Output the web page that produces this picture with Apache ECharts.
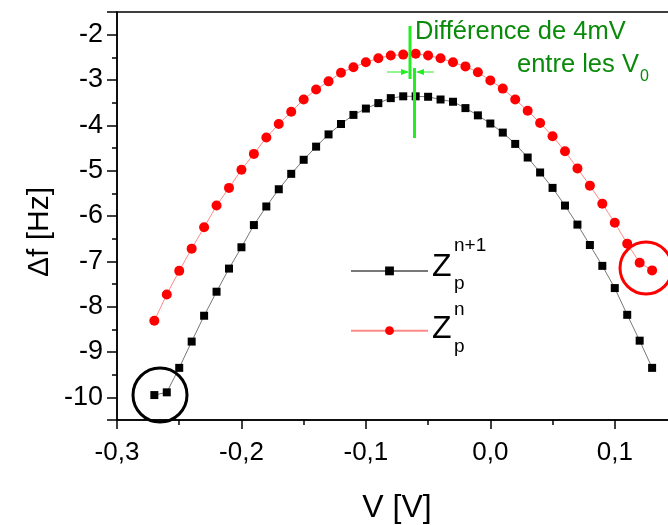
<!DOCTYPE html>
<html><head><meta charset="utf-8">
<script src="https://cdn.jsdelivr.net/npm/echarts@6/dist/echarts.min.js"></script>
<style>html,body{margin:0;padding:0;background:#fff}#c{width:668px;height:525px}</style>
</head><body><div id="c"></div>
<script>
const voltages = [-0.27,-0.26,-0.25,-0.24,-0.23,-0.22,-0.21,-0.20,-0.19,-0.18,
  -0.17,-0.16,-0.15,-0.14,-0.13,-0.12,-0.11,-0.10,-0.09,-0.08,
  -0.07,-0.06,-0.05,-0.04,-0.03,-0.02,-0.01,0.00,0.01,0.02,
  0.03,0.04,0.05,0.06,0.07,0.08,0.09,0.10,0.11,0.12,0.13];
const zpN1 = [-9.95,-9.89,-9.35,-8.77,-8.20,-7.67,-7.16,-6.69,-6.20,-5.79,
  -5.41,-5.07,-4.76,-4.47,-4.20,-3.97,-3.77,-3.63,-3.51,-3.40,
  -3.36,-3.36,-3.37,-3.43,-3.48,-3.62,-3.78,-3.96,-4.16,-4.41,
  -4.71,-5.04,-5.38,-5.77,-6.19,-6.64,-7.10,-7.59,-8.18,-8.75,-9.35];
const zpN = [-8.31,-7.73,-7.21,-6.72,-6.25,-5.77,-5.38,-4.98,-4.63,-4.27,
  -3.97,-3.70,-3.43,-3.21,-3.03,-2.84,-2.72,-2.61,-2.52,-2.46,
  -2.44,-2.42,-2.46,-2.52,-2.61,-2.70,-2.83,-3.01,-3.19,-3.43,
  -3.68,-3.95,-4.24,-4.57,-4.95,-5.33,-5.73,-6.15,-6.61,-7.03,-7.20];
const xTicks = [-0.3,-0.2,-0.1,0.0,0.1];
const yTicks = [-2,-3,-4,-5,-6,-7,-8,-9,-10];

const FONT = '"Liberation Sans", Arial, sans-serif';
const chart = echarts.init(document.getElementById('c'), null, {renderer:'canvas'});
const green = '#22ee22';
const dgreen = '#0a8a0a';
chart.setOption({
  animation:false,
  backgroundColor:'#fff',
  grid:{left:117, top:12, right:-9, bottom:105, containLabel:false, outerBoundsMode:'none',
    show:true, borderColor:'#000', borderWidth:1.5},
  legend:{
    orient:'vertical', left:345, top:261.5, itemWidth:77, itemHeight:11, itemGap:51,
    formatter:()=>' ', textStyle:{fontSize:2},
    data:['Zpn1','Zpn']
  },
  xAxis:{
    type:'value', min:-0.3, max:0.15, interval:0.1,
    axisLine:{onZero:false, lineStyle:{color:'#000', width:1.5}},
    axisTick:{show:true, length:9, inside:false, lineStyle:{color:'#000', width:1.5}},
    minorTick:{show:true, splitNumber:2, length:5, lineStyle:{color:'#000', width:1.5}},
    splitLine:{show:false},
    axisLabel:{fontFamily:FONT, fontSize:26, color:'#000', margin:20, showMaxLabel:false,
      formatter:v=>{ const t = xTicks.find(x=>Math.abs(x-v)<1e-9); return t===undefined?'':t.toFixed(1).replace('.',','); }},
    name:'V [V]', nameLocation:'middle', nameGap:72,
    nameTextStyle:{fontFamily:FONT, fontSize:32, color:'#000'}
  },
  yAxis:{
    type:'value', min:-10.5, max:-1.5, splitNumber:8,
    axisLine:{onZero:false, lineStyle:{color:'#000', width:1.5}},
    axisTick:{show:true, length:10, lineStyle:{color:'#000', width:1.5}},
    minorTick:{show:true, splitNumber:2, length:5, lineStyle:{color:'#000', width:1.5}},
    splitLine:{show:false},
    axisLabel:{fontFamily:FONT, fontSize:27, color:'#000', margin:14,
      formatter:v=>{ const t = yTicks.find(y=>Math.abs(y-v)<1e-9); return t===undefined?'':String(t); }}
  },
  series:[
    {name:'Zpn1', type:'line', data:voltages.map((v,i)=>[v,zpN1[i]]),
     symbol:'rect', symbolSize:8, itemStyle:{color:'#000'},
     lineStyle:{color:'#777', width:1}, z:2},
    {name:'Zpn', type:'line', data:voltages.map((v,i)=>[v,zpN[i]]),
     symbol:'circle', symbolSize:10, itemStyle:{color:'#ff0000'},
     lineStyle:{color:'#ff8a8a', width:1}, z:3}
  ],
  graphic:[
    {type:'text', x:40, y:232, rotation:Math.PI/2, style:{text:'Δf [Hz]', font:'30px '+FONT, fill:'#000', align:'center', verticalAlign:'middle'}},
    // legend labels
    {type:'text', x:432, y:267, style:{text:'Z', font:'32px '+FONT, fill:'#000', verticalAlign:'middle'}},
    {type:'text', x:454, y:246, style:{text:'n+1', font:'19px '+FONT, fill:'#000', verticalAlign:'middle'}},
    {type:'text', x:454, y:284, style:{text:'p', font:'19px '+FONT, fill:'#000', verticalAlign:'middle'}},
    {type:'text', x:432, y:329, style:{text:'Z', font:'32px '+FONT, fill:'#000', verticalAlign:'middle'}},
    {type:'text', x:454, y:310, style:{text:'n', font:'19px '+FONT, fill:'#000', verticalAlign:'middle'}},
    {type:'text', x:454, y:347, style:{text:'p', font:'19px '+FONT, fill:'#000', verticalAlign:'middle'}},
    // circles
    {type:'circle', shape:{cx:160, cy:395, r:27}, style:{fill:'none', stroke:'#000', lineWidth:3}, z:10},
    {type:'circle', shape:{cx:646, cy:268, r:26}, style:{fill:'none', stroke:'#ff0000', lineWidth:3}, z:10},
    // green annotation
    {type:'line', shape:{x1:410, y1:26, x2:410, y2:79}, style:{stroke:green, lineWidth:3}, z:10},
    {type:'line', shape:{x1:414.5, y1:68, x2:414.5, y2:138}, style:{stroke:green, lineWidth:3}, z:10},
    {type:'line', shape:{x1:387, y1:72, x2:408, y2:72}, style:{stroke:green, lineWidth:1}, z:10},
    {type:'polygon', shape:{points:[[409,72],[401,69],[401,75]]}, style:{fill:green}, z:10},
    {type:'line', shape:{x1:417, y1:72, x2:434, y2:72}, style:{stroke:green, lineWidth:1}, z:10},
    {type:'polygon', shape:{points:[[416,72],[424,69],[424,75]]}, style:{fill:green}, z:10},
    {type:'text', x:415, y:32, style:{text:'Différence de 4mV', font:'25.5px '+FONT, fill:dgreen, verticalAlign:'middle'}, z:10},
    {type:'text', x:517, y:65, style:{text:'entre les V', font:'25.5px '+FONT, fill:dgreen, verticalAlign:'middle'}, z:10},
    {type:'text', x:640, y:77, style:{text:'0', font:'16px '+FONT, fill:dgreen, verticalAlign:'middle'}, z:10}
  ]
});
</script></body></html>
